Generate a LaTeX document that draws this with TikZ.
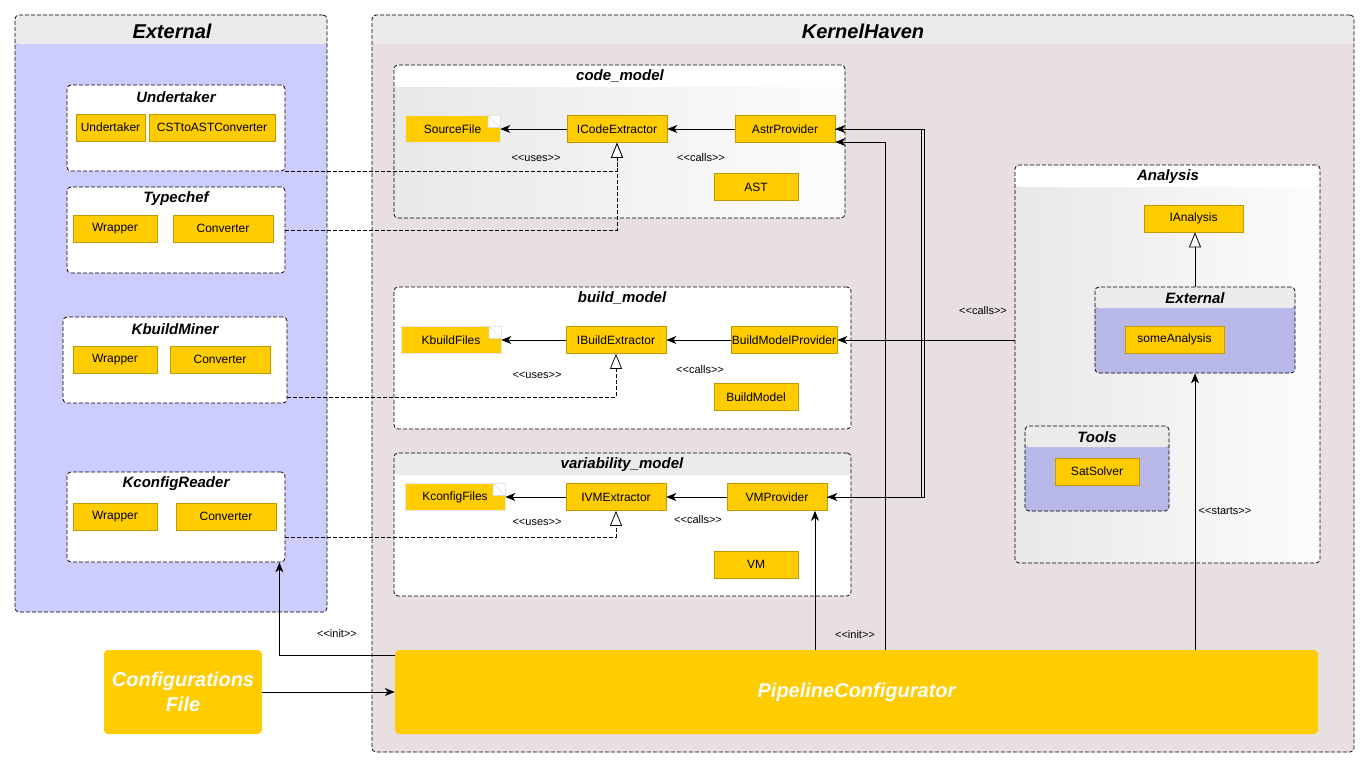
\documentclass[tikz,border=0pt]{standalone}
\usepackage{fontspec}
\usepackage{tikz}
\usetikzlibrary{arrows.meta,
	positioning}
\newfontfamily\kfont{Liberation Sans}
\definecolor{kyellow}{HTML}{FFCC00}
\definecolor{kedge}{HTML}{C09A00}
\definecolor{extblue}{HTML}{CCCCFF}
\definecolor{inblue}{HTML}{B8B8E8}
\definecolor{khback}{HTML}{E8E0E0}
\definecolor{hdrgray}{HTML}{EBEBEB}

\tikzset{
	grp/.style={draw, dash pattern=on 4pt off 2pt, rounded corners=4pt, inner sep=0pt, line width=0.75pt},
	hdr/.style 2 args={path picture={\fill[#2] (path picture bounding box.north west) rectangle ([yshift=-#1]path picture bounding box.north east);}},
	ttl/.style={font=\kfont\fontsize{15}{18}\selectfont\bfseries\itshape},
	bigttl/.style={font=\kfont\fontsize{20}{24}\selectfont\bfseries\itshape},
	cls/.style={draw=kedge, fill=kyellow, line width=0.7pt, inner sep=0pt, minimum height=27pt, minimum width=100pt, font=\kfont\fontsize{12}{14}\selectfont},
	note/.style={cls, draw=black!10, path picture={\fill[white] ([xshift=-12pt]path picture bounding box.north east) rectangle ([yshift=-12pt]path picture bounding box.north east); \draw[black!15] ([xshift=-12pt]path picture bounding box.north east) -- ([xshift=-12pt,yshift=-12pt]path picture bounding box.north east) -- ([yshift=-12pt]path picture bounding box.north east) -- cycle;}},
	big/.style={fill=kyellow, rounded corners=4pt, text=white, align=center, inner sep=0pt, minimum height=84pt, font=\kfont\fontsize{20}{25}\selectfont\bfseries\itshape},
	lbl/.style={font=\kfont\fontsize{11}{13}\selectfont},
	arr/.style={-{Stealth[length=10pt,width=8pt,inset=3pt]}, line width=0.8pt},
	real/.style={dash pattern=on 4pt off 2pt, line width=0.75pt, -{Triangle[open,length=15pt,width=12pt,fill=white]}},
	inh/.style={line width=0.8pt, -{Triangle[open,length=15pt,width=12pt,fill=white]}}
}

\begin{document}
\begin{tikzpicture}[x=1pt, y=-1pt]

	\useasboundingbox (0,0) rectangle (1369,768);

	\node[grp, fill=extblue, hdr={29pt}{hdrgray}, minimum width=312pt, minimum height=597pt] (extG) at (171,313.5) {};
	\node[bigttl] (extT) at (172,31) {External};
	\node[grp, fill=khback, hdr={29pt}{hdrgray}, minimum width=982pt, minimum height=737pt] (khG) at (863,383.5) {};
	\node[bigttl] (khT) at (863,31) {KernelHaven};

	\node[grp, fill=white, minimum width=218pt, minimum height=86pt] (undG) at (176,128) {};
	\node[ttl] (undT) at (176,97) {Undertaker};
	\node[cls, minimum width=69pt] (und) at (110.5,127.5) {Undertaker};
	\node[cls, minimum width=126pt] (cst) at (212,127.5) {CSTtoASTConverter};

	\node[grp, fill=white, minimum width=218pt, minimum height=86pt] (tchG) at (176,230) {};
	\node[ttl] (tchT) at (176,199) {Typechef};
	\node[cls, minimum width=84pt] (tchW) at (115,228.5) {Wrapper};
	\node[cls] (tchC) at (223,228.5) {Converter};

	\node[grp, fill=white, minimum width=224pt, minimum height=86pt] (kbmG) at (175,360) {};
	\node[ttl] (kbmT) at (175,329) {KbuildMiner};
	\node[cls, minimum width=84pt] (kbmW) at (115,359.5) {Wrapper};
	\node[cls] (kbmC) at (220,359.5) {Converter};

	\node[grp, fill=white, minimum width=218pt, minimum height=90pt] (kcrG) at (176,517) {};
	\node[ttl] (kcrT) at (176,484) {KconfigReader};
	\node[cls, minimum width=84pt] (kcrW) at (115,516.5) {Wrapper};
	\node[cls] (kcrC) at (226,516.5) {Converter};

	\node[grp, left color=black!9, right color=black!1, hdr={22pt}{white}, minimum width=451pt, minimum height=153pt] (codeG) at (619.5,141.5) {};
	\node[ttl] (codeT) at (620,76) {code\_model};
	\node[note, minimum width=95pt] (srcF) at (452.5,129) {SourceFile};
	\node[cls] (icode) at (617,129) {ICodeExtractor};
	\node[cls] (astr) at (785,129) {AstrProvider};
	\node[cls, minimum width=84pt] (ast) at (756,187) {AST};
	\node[lbl] (usesC) at (536,158) {<<uses>>};
	\node[lbl] (callsC) at (701,158) {<<calls>>};

	\node[grp, fill=white, minimum width=457pt, minimum height=142pt] (buildG) at (622.5,358) {};
	\node[ttl] (buildT) at (622,298) {build\_model};
	\node[note] (kbF) at (451,340) {KbuildFiles};
	\node[cls] (ibuild) at (616,340) {IBuildExtractor};
	\node[cls, minimum width=106pt] (bmp) at (784,340) {BuildModelProvider};
	\node[cls, minimum width=84pt] (bm) at (756,397) {BuildModel};
	\node[lbl] (usesB) at (537,375) {<<uses>>};
	\node[lbl] (callsB) at (700,370) {<<calls>>};

	\node[grp, fill=white, hdr={22pt}{hdrgray}, minimum width=457pt, minimum height=143pt] (varG) at (622.5,524.5) {};
	\node[ttl] (varT) at (622,465) {variability\_model};
	\node[note] (kcF) at (455,497) {KconfigFiles};
	\node[cls] (ivm) at (616,497) {IVMExtractor};
	\node[cls] (vmp) at (777,497) {VMProvider};
	\node[cls, minimum width=84pt] (vm) at (756,564.5) {VM};
	\node[lbl] (usesV) at (537,522) {<<uses>>};
	\node[lbl] (callsV) at (698,520) {<<calls>>};

	\node[grp, left color=black!9, right color=black!1, hdr={22pt}{white}, minimum width=305pt, minimum height=398pt] (anG) at (1167.5,364) {};
	\node[ttl] (anT) at (1168,177) {Analysis};
	\node[cls, minimum width=99pt] (ianal) at (1193.5,218.5) {IAnalysis};
	\node[grp, fill=inblue, hdr={21pt}{hdrgray}, minimum width=200pt, minimum height=86pt] (anExt) at (1195,330) {};
	\node[ttl] (anExtT) at (1195,298) {External};
	\node[cls, minimum width=99pt] (some) at (1174.5,339.5) {someAnalysis};
	\node[grp, fill=inblue, hdr={21pt}{hdrgray}, minimum width=144pt, minimum height=85pt] (toolsG) at (1097,468.5) {};
	\node[ttl] (toolsT) at (1097,437) {Tools};
	\node[cls, minimum width=84pt] (sat) at (1097,471.5) {SatSolver};

	\node[big, minimum width=158pt] (cfg) at (183,692) {Configurations\\File};
	\node[big, minimum width=923pt] (pipe) at (856.5,692) {PipelineConfigurator};

	\coordinate (p0) at (395,655);
	\coordinate (p1) at (815,650);
	\coordinate (p2) at (885,650);
	\coordinate (p3) at (1195,650);
	\coordinate (busA) at ([xshift=86pt]astr.east);
	\coordinate (busB) at ([xshift=89pt]astr.east);

	\draw[arr] (icode) -- (srcF);
	\draw[arr] (astr) -- (icode);
	\draw[arr] (ibuild) -- (kbF);
	\draw[arr] (bmp) -- (ibuild);
	\draw[arr] (ivm) -- (kcF);
	\draw[arr] (vmp) -- (ivm);

	\draw[real] (undG.south east) -| (icode.south);
	\draw[real] (tchG.east) -| (icode.south);
	\draw[real] ([yshift=6pt]kbmG.south east) -| (ibuild.south);
	\draw[real] ([yshift=-20pt]kcrG.east) -| (ivm.south);

	\draw[arr] (vmp.east) -| (busA) -- (astr.east);
	\draw[arr] (astr.east) -| (busB |- vmp.east) -- (vmp.east);
	\draw[arr] (anG.west |- bmp.east) -- (bmp.east);
	\node[lbl] (callsA) at (983,311) {<<calls>>};
	\draw[inh] (anExt.north) -- (anExt.north |- ianal.south);

	\draw[arr] (cfg) -- (pipe);
	\draw[arr] (p0) -| ([xshift=-6pt]kcrG.south east);
	\node[lbl] (initK) at (337,634) {<<init>>};
	\draw[arr] (p1) -- (p1 |- vmp.south);
	\draw[arr] (p2) |- ([yshift=-13pt]astr.east);
	\node[lbl] (initA) at (855,635) {<<init>>};
	\draw[arr] (p3) -- (anExt.south);
	\node[lbl] (starts) at (1225,511) {<<starts>>};

\end{tikzpicture}
\end{document}
